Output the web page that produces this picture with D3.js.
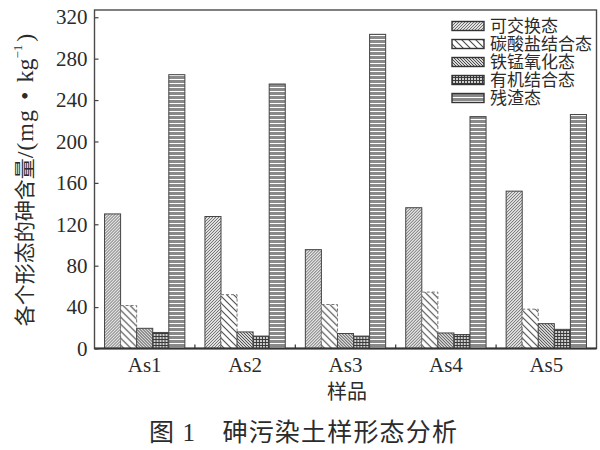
<!DOCTYPE html>
<html>
<head>
<meta charset="utf-8">
<script src="https://cdn.jsdelivr.net/npm/d3@7/dist/d3.min.js"></script>
<style>
  html, body { margin: 0; padding: 0; background: #fff; }
  svg { display: block; }
</style>
</head>
<body>
<svg id="chart" width="600" height="450"></svg>
<script>
// ---- data ----
const samples = ["As1", "As2", "As3", "As4", "As5"];
const seriesNames = ["可交换态", "碳酸盐结合态", "铁锰氧化态", "有机结合态", "残渣态"];
const exchangeable = [130, 127.5, 95.5, 136, 152];
const carbonate    = [41.5, 52, 42.5, 54.5, 38];
const feMnOxide    = [19.5, 16, 14.5, 15, 24];
const organic      = [15.5, 12, 12, 13.5, 18.5];
const residual     = [264.5, 255.5, 303.5, 224, 226];
const yTicks = [0, 40, 80, 120, 160, 200, 240, 280, 320];
const seriesValues = [exchangeable, carbonate, feMnOxide, organic, residual];

// ---- layout ----
const svg = d3.select("#chart");
const L = 94.5, R = 596.5, T = 10, B = 348.5;
const serif = "'Liberation Serif', 'Times New Roman', 'Noto Sans CJK SC', serif";
const cjk = "'Liberation Serif', 'Noto Sans CJK SC', sans-serif";
const ink = "#2b2b2b";

const x = d3.scaleBand().domain(samples).range([L, R]).paddingInner(0.2).paddingOuter(0.1);
const xs = d3.scaleBand().domain(d3.range(seriesNames.length)).range([0, x.bandwidth()]).padding(0);
const y = d3.scaleLinear().domain([0, 327]).range([B, T]);

// ---- patterns ----
const defs = svg.append("defs");
function pat(id, w, h, build) {
  const p = defs.append("pattern").attr("id", id).attr("patternUnits", "userSpaceOnUse")
    .attr("width", w).attr("height", h);
  build(p);
}
// 可交换态: fine "/" hatch
pat("p0", 3, 3, p => {
  p.append("rect").attr("width", 3).attr("height", 3).attr("fill", "#e2e2e2");
  p.append("path").attr("d", "M-1,1 L1,-1 M0,3 L3,0 M2,4 L4,2").attr("stroke", "#626262").attr("stroke-width", 0.9);
});
// 碳酸盐结合态: wide "\" hatch
pat("p1", 7, 7, p => {
  p.append("rect").attr("width", 7).attr("height", 7).attr("fill", "#fff");
  p.append("path").attr("d", "M-1,6 L1,8 M0,0 L7,7 M6,-1 L8,1").attr("stroke", "#4a4a4a").attr("stroke-width", 1.1);
});
// 铁锰氧化态: dense "\" hatch
pat("p2", 3, 3, p => {
  p.append("rect").attr("width", 3).attr("height", 3).attr("fill", "#d8d8d8");
  p.append("path").attr("d", "M-1,2 L1,4 M0,0 L3,3 M2,-1 L4,1").attr("stroke", "#4a4a4a").attr("stroke-width", 1);
});
// 有机结合态: grid
pat("p3", 3, 3, p => {
  p.append("rect").attr("width", 3).attr("height", 3).attr("fill", "#cfcfcf");
  p.append("path").attr("d", "M0.5,0 L0.5,3 M0,0.5 L3,0.5").attr("stroke", "#3a3a3a").attr("stroke-width", 1);
});
// 残渣态: horizontal stripes
pat("p4", 4, 4, p => {
  p.append("rect").attr("width", 4).attr("height", 4).attr("fill", "#fff");
  p.append("rect").attr("width", 4).attr("height", 3).attr("fill", "#8a8a8a");
});

// ---- bars ----
const groups = svg.append("g").selectAll("g").data(samples).join("g")
  .attr("transform", d => `translate(${x(d)},0)`);
groups.selectAll("rect")
  .data((d, i) => seriesValues.map((vals, s) => ({ s, v: vals[i] })))
  .join("rect")
  .attr("x", d => xs(d.s))
  .attr("y", d => y(d.v))
  .attr("width", xs.bandwidth())
  .attr("height", d => y(0) - y(d.v))
  .attr("fill", d => `url(#p${d.s})`)
  .attr("stroke", d => d.s === 1 ? "#777" : "#444")
  .attr("stroke-width", 1)
  .attr("stroke-dasharray", d => d.s === 1 ? "3,2" : null);

// ---- frame & axes ----
svg.append("rect").attr("x", L).attr("y", T).attr("width", R - L).attr("height", B - T)
  .attr("fill", "none").attr("stroke", "#4a4a4a").attr("stroke-width", 1.4);
svg.append("line").attr("x1", L).attr("x2", R).attr("y1", B).attr("y2", B)
  .attr("stroke", "#333").attr("stroke-width", 2);

const yAxis = svg.append("g").attr("transform", `translate(${L},0)`)
  .call(d3.axisLeft(y).tickValues(yTicks).tickSize(-4).tickPadding(7));
yAxis.select(".domain").remove();
yAxis.selectAll("line").attr("stroke", "#444").attr("stroke-width", 1.2);
yAxis.selectAll("text").attr("font-family", serif).attr("font-size", 21).attr("fill", ink);

const xAxis = svg.append("g").attr("transform", `translate(0,${B})`)
  .call(d3.axisBottom(x).tickSize(0).tickPadding(9));
xAxis.select(".domain").remove();
xAxis.selectAll("text").attr("font-family", serif).attr("font-size", 21).attr("fill", ink);

// inward minor ticks between groups
const bounds = samples.slice(1).map(s => x(s) - x.step() * x.paddingInner() / 2);
svg.append("g").selectAll("line").data(bounds).join("line")
  .attr("x1", d => d).attr("x2", d => d).attr("y1", B).attr("y2", B - 4)
  .attr("stroke", "#333").attr("stroke-width", 1.2);

// ---- titles ----
const yt = svg.append("text").attr("transform", "translate(25,180) rotate(-90)")
  .attr("text-anchor", "middle").attr("dominant-baseline", "central")
  .attr("font-family", cjk).attr("font-size", 21).attr("fill", ink);
yt.append("tspan").text("各个形态的砷含量");
yt.append("tspan").attr("font-size", 24).attr("letter-spacing", 1).text("/(mg");
yt.append("tspan").attr("font-size", 24).attr("dx", 9).text("•");
yt.append("tspan").attr("font-size", 24).attr("dx", 9).text("kg");
yt.append("tspan").text("−1").attr("font-size", 13).attr("baseline-shift", "60%");
yt.append("tspan").attr("font-size", 24).attr("dx", 3).text(")");

svg.append("text").attr("x", 347).attr("y", 399).attr("text-anchor", "middle")
  .attr("font-family", cjk).attr("font-size", 20).attr("fill", ink).text("样品");

svg.append("text").attr("x", 303).attr("y", 441).attr("text-anchor", "middle")
  .attr("font-family", cjk).attr("font-size", 25).attr("fill", ink)
  .attr("textLength", 308).attr("lengthAdjust", "spacing")
  .attr("xml:space", "preserve").text("图 1　砷污染土样形态分析");

// ---- legend ----
const leg = svg.append("g").selectAll("g").data(seriesNames).join("g")
  .attr("transform", (d, i) => `translate(452,${26 + i * 18})`);
leg.append("rect").attr("x", 0).attr("y", -4.5).attr("width", 32).attr("height", 9)
  .attr("fill", (d, i) => `url(#p${i})`).attr("stroke", "#333").attr("stroke-width", 1.4);
leg.append("text").attr("x", 38).attr("y", 0).attr("dy", "0.35em")
  .attr("font-family", cjk).attr("font-size", 17).attr("fill", ink).text(d => d);
</script>
</body>
</html>
